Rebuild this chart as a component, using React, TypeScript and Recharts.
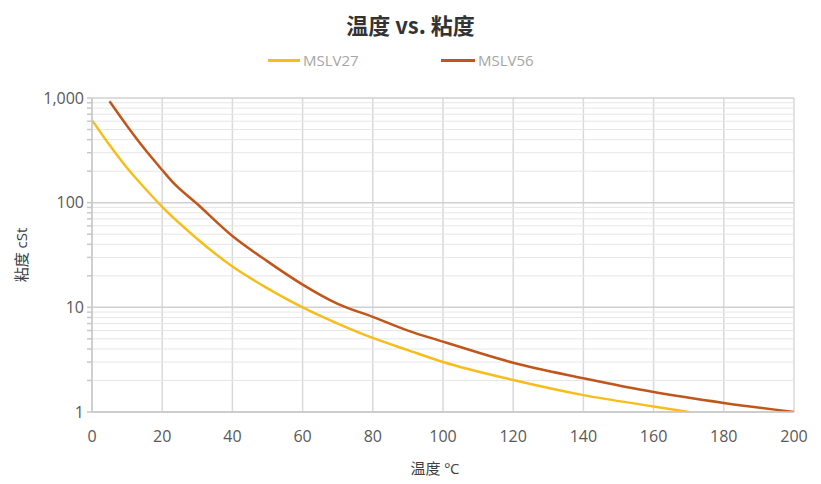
import React from "react";
import { LineChart, Line, XAxis, YAxis, CartesianGrid, ReferenceLine, Label } from "recharts";

const temps27 = [0, 5, 10, 15, 20, 30, 40, 50, 60, 70, 80, 90, 100, 120, 140, 160, 170];
const mslv27 = [615, 355, 214, 138, 91, 45, 24.5, 15.2, 10, 7, 5.1, 3.9, 3.0, 2.02, 1.45, 1.13, 1.0];

const temps56 = [5, 10, 15, 20, 23, 30, 40, 50, 60, 70, 80, 90, 100, 110, 120, 140, 160, 180, 200];
const mslv56 = [930, 540, 325, 205, 157, 97, 48, 27.5, 16.5, 10.8, 8.1, 6.0, 4.7, 3.7, 2.95, 2.1, 1.55, 1.22, 1.0];

const xTicks = [0, 20, 40, 60, 80, 100, 120, 140, 160, 180, 200];
const decades = [1, 10, 100, 1000];
const yTicks = [1, 2, 3, 4, 5, 6, 7, 8, 9, 10, 20, 30, 40, 50, 60, 70, 80, 90, 100, 200, 300, 400, 500, 600, 700, 800, 900, 1000];

const data27 = temps27.map((t, i) => ({ t, v: mslv27[i] }));
const data56 = temps56.map((t, i) => ({ t, v: mslv56[i] }));

const YELLOW = "#F7BE1B";
const BROWN = "#C0561A";
const FONT = "'Open Sans', 'Noto Sans CJK SC', sans-serif";

export default function App() {
  return (
    <div style={{ position: "absolute", left: 0, top: 0, width: 821, height: 484, background: "#fff", fontFamily: FONT }}>
      <div style={{ position: "absolute", top: 8, left: 0, width: 821, textAlign: "center", paddingRight: 2, fontSize: 22, fontWeight: 700, color: "#333", fontFamily: "'Noto Sans CJK SC', sans-serif" }}>
        温度 vs. 粘度
      </div>
      <div style={{ position: "absolute", top: 50, left: 268, display: "flex", alignItems: "center", fontSize: 15, color: "#a6a6a6" }}>
        <span style={{ display: "inline-block", width: 32, height: 3, background: YELLOW, marginRight: 3 }} />
        <span>MSLV27</span>
      </div>
      <div style={{ position: "absolute", top: 50, left: 441, display: "flex", alignItems: "center", fontSize: 15, color: "#a6a6a6" }}>
        <span style={{ display: "inline-block", width: 34, height: 3, background: BROWN, marginRight: 3 }} />
        <span>MSLV56</span>
      </div>
      <LineChart width={821} height={484} margin={{ top: 98, right: 27, bottom: 0, left: 0 }}>
        <CartesianGrid horizontal={false} stroke="#d9d9d9" strokeWidth={1.5} />
        {yTicks.map((v) => (
          <ReferenceLine key={v} y={v} stroke={decades.includes(v) ? "#d0d0d0" : "#e6e6e6"} strokeWidth={decades.includes(v) ? 1.5 : 1} />
        ))}
        <XAxis
          dataKey="t"
          type="number"
          domain={[0, 200]}
          ticks={xTicks}
          allowDuplicatedCategory={false}
          tickLine={false}
          tickMargin={13}
          height={72}
          stroke="#c8c8c8"
          strokeWidth={1.5}
          tick={{ fill: "#595959", fontSize: 16 }}
        >
          <Label value="温度 ºC" position="insideBottom" offset={10} dx={-8} style={{ fill: "#404040", fontSize: 15, fontFamily: FONT }} />
        </XAxis>
        <YAxis
          scale="log"
          domain={[1, 1000]}
          ticks={yTicks}
          interval={0}
          allowDataOverflow
          width={92}
          tickSize={5}
          tickMargin={3}
          stroke="#c8c8c8"
          strokeWidth={1.5}
          tick={{ fill: "#595959", fontSize: 16 }}
          tickFormatter={(v: number) => (decades.includes(v) ? v.toLocaleString("en-US") : "")}
        >
          <Label value="粘度 cSt" angle={-90} position="insideLeft" offset={22} style={{ fill: "#404040", fontSize: 15, textAnchor: "middle", fontFamily: FONT }} />
        </YAxis>
        <Line data={data27} dataKey="v" type="monotone" stroke={YELLOW} strokeWidth={2.5} dot={false} isAnimationActive={false} />
        <Line data={data56} dataKey="v" type="monotone" stroke={BROWN} strokeWidth={2.5} dot={false} isAnimationActive={false} />
      </LineChart>
    </div>
  );
}
